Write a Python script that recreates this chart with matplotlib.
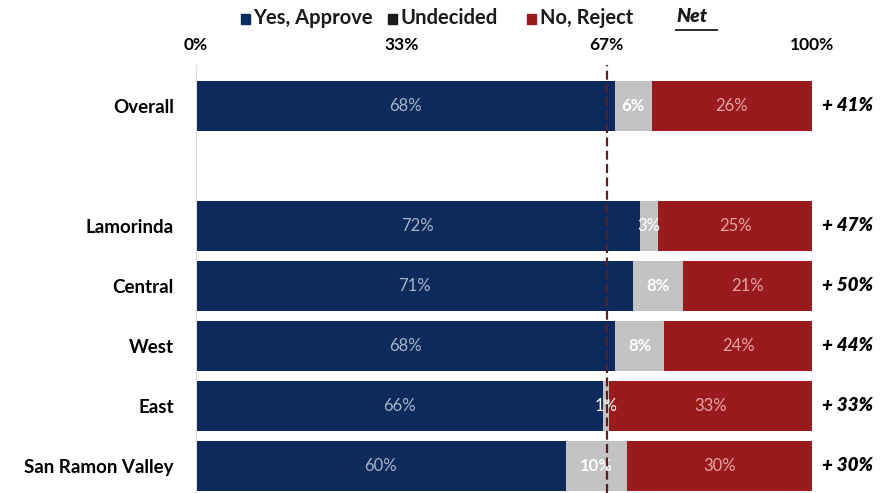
import numpy as np
import matplotlib.pyplot as plt
from matplotlib.lines import Line2D
from matplotlib.patches import Rectangle

plt.rcParams['font.family'] = ['Lato', 'DejaVu Sans']

regions = ['Overall', 'Lamorinda', 'Central', 'West', 'East', 'San Ramon Valley']
approve = [68, 72, 71, 68, 66, 60]
undecided = [6, 3, 8, 8, 1, 10]
reject = [26, 25, 21, 24, 33, 30]
net = ['+41%', '+47%', '+50%', '+44%', '+33%', '+30%']
ticks = [0, 100 / 3, 200 / 3, 100]
tick_labels = ['0%', '33%', '67%', '100%']

navy = '#0c2a5b'
grey = '#c3c3c3'
red = '#9a1b1e'

# Overall sits apart from the regions, one empty row between them
ypos = np.array([0, 2, 3, 4, 5, 6])

W, H = 881, 493
fig = plt.figure(figsize=(W / 100, H / 100), dpi=100)
ax = fig.add_axes([196 / W, 0, 616 / W, (H - 65) / H])

h = 0.83
ax.barh(ypos, approve, height=h, color=navy)
ax.barh(ypos, undecided, left=approve, height=h, color=grey)
left_r = np.array(approve) + np.array(undecided)
ax.barh(ypos, reject, left=left_r, height=h, color=red)

for y, a, u, r, n in zip(ypos, approve, undecided, reject, net):
    ax.text(a / 2, y, f'{a}%', ha='center', va='center', color='#a8b4c8', fontsize=12)
    ax.text(a + u / 2, y, f'{u}%', ha='center', va='center', color='white', fontsize=12,
            fontweight='bold' if u >= 6 else 'normal')
    ax.text(a + u + r / 2, y, f'{r}%', ha='center', va='center', color='#e6a3a3', fontsize=12)
    ax.text(101.6, y, n.replace('+', '+ '), ha='left', va='center', color='black',
            fontsize=13.5, fontweight='heavy', style='italic')

# two-thirds reference line
ax.axvline(200 / 3, color='#5a1f24', lw=1.6, ls=(0, (4, 2)), zorder=3)

ax.set_xlim(0, 100)
ax.set_ylim(6.45, -0.683)
ax.xaxis.tick_top()
ax.set_xticks(ticks)
ax.set_xticklabels(tick_labels, fontsize=12.5, fontweight='bold')
ax.tick_params(axis='x', length=0, pad=9)
ax.set_yticks(ypos)
ax.set_yticklabels(regions, fontsize=13.5, fontweight='bold')
ax.tick_params(axis='y', length=0, pad=16)
for s in ['top', 'right', 'bottom']:
    ax.spines[s].set_visible(False)
ax.spines['left'].set_color('#dddddd')

# legend row across the top
items = [(241, 253, navy, 'Yes, Approve'), (388, 401, '#1a1a1a', 'Undecided'),
         (527, 540, red, 'No, Reject')]
for xs, xt, c, lab in items:
    fig.add_artist(Rectangle((xs / W, 1 - 24 / H), 9 / W, 10 / H, color=c,
                             transform=fig.transFigure))
    fig.text(xt / W, 1 - 18 / H, lab, color='#1a1a1a', fontsize=14.5,
             fontweight='bold', va='center', ha='left')
fig.text(676 / W, 1 - 17 / H, 'Net', color='#1a1a1a', fontsize=14,
         fontweight='heavy', style='italic', va='center', ha='left')
fig.add_artist(Line2D([676 / W, 717 / W], [1 - 30 / H, 1 - 30 / H],
                      color='#1a1a1a', lw=1.3))

fig.savefig('out.png', dpi=100)
